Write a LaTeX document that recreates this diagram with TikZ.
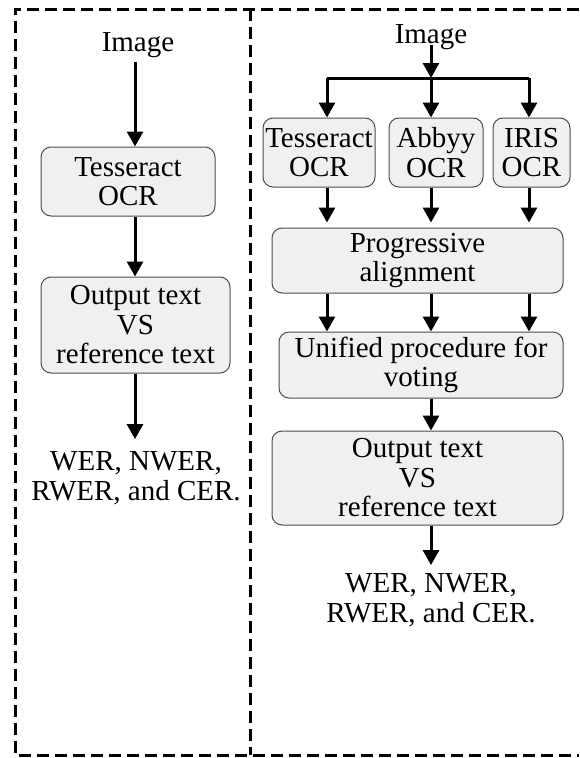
\documentclass[tikz,border=0pt]{standalone}
\usepackage{fontspec}
\setmainfont{Liberation Serif}
\usetikzlibrary{arrows.meta}

\tikzset{
  ocrbox/.style={draw=black!70, fill=black!6, rounded corners=10pt, line width=1pt,
    align=center, inner sep=0pt, font=\fontsize{29}{29.5}\selectfont},
  plain/.style={align=center, inner sep=0pt, font=\fontsize{29}{30}\selectfont},
  arr/.style={line width=3pt, -{Triangle[width=16pt,length=15pt]}},
  frame/.style={line width=3pt, dash pattern=on 12pt off 6pt}
}

\begin{document}
\begin{tikzpicture}[x=1pt,y=-1pt]
	\useasboundingbox (0,0) rectangle (579,758);
	% dashed frame
	\draw[frame] (579,9) -- (15,9) -- (15,755) -- (579,755);
	\draw[frame] (250,9) -- (250,755);

	% left: one OCR engine
	\node[plain] (img1) at (138,45) {Image};
	\node[ocrbox, minimum width=174pt, minimum height=69pt] (tess1) at (128,181.5) {Tesseract\\OCR};
	\node[ocrbox, minimum width=189pt, minimum height=96pt] (out1) at (135.5,325) {Output text\\VS\\reference text};
	\node[plain] (wer1) at (136,478) {WER, NWER,\\RWER, and CER.};
	\coordinate (l1) at (135,62);
	\draw[arr] (l1) -- (l1 |- tess1.north);
	\draw[arr] (l1 |- tess1.south) -- (l1 |- out1.north);
	\draw[arr, shorten >=12pt] (l1 |- out1.south) -- (l1 |- wer1.north);

	% right: three OCR engines
	\node[plain] (img2) at (431,37) {Image};
	\node[ocrbox, minimum width=112pt, minimum height=69pt] (tess2) at (319,152.5) {Tesseract\\OCR};
	\node[ocrbox, minimum width=94pt, minimum height=69pt] (abbyy) at (436,152.5) {Abbyy\\OCR};
	\node[ocrbox, minimum width=77pt, minimum height=69pt] (iris) at (531.5,152.5) {IRIS\\OCR};
	\node[ocrbox, minimum width=291pt, minimum height=65pt] (prog) at (417.5,260.5) {Progressive\\alignment};
	\node[ocrbox, minimum width=284pt, minimum height=66pt] (unif) at (421,365) {Unified procedure for\\voting};
	\node[ocrbox, minimum width=291pt, minimum height=94pt] (out2) at (417.5,478) {Output text\\VS\\reference text};
	\node[plain] (wer2) at (431,600) {WER, NWER,\\RWER, and CER.};

	\coordinate (split) at (431,78);
	\coordinate (c1) at (327,78);
	\coordinate (c2) at (431,78);
	\coordinate (c3) at (529,78);
	\draw[arr] (431,45) -- (split);
	\draw[line width=3pt] (c1) -- (c3);
	\foreach \c/\b in {c1/tess2, c2/abbyy, c3/iris}{
		\draw[arr] (\c) -- (\c |- \b.north);
		\draw[arr, shorten >=5pt] (\c |- \b.south) -- (\c |- prog.north);
		\draw[arr] (\c |- prog.south) -- (\c |- unif.north);
	}
	\draw[arr] (c2 |- unif.south) -- (c2 |- out2.north);
	\draw[arr, shorten >=8pt] (c2 |- out2.south) -- (c2 |- wer2.north);
\end{tikzpicture}
\end{document}
